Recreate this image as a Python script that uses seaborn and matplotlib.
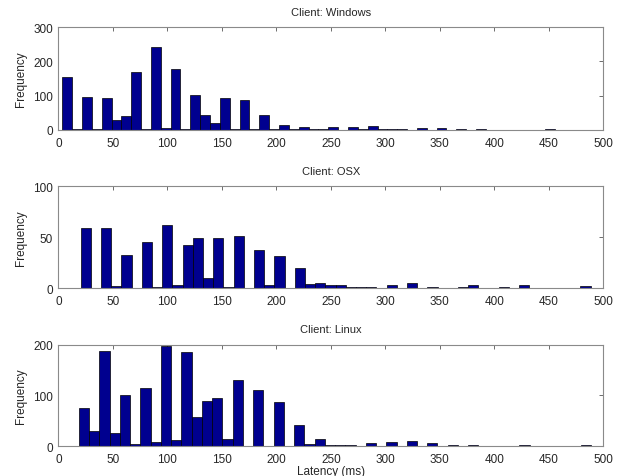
import numpy as np
import pandas as pd
import seaborn as sns
import matplotlib.pyplot as plt

# Histogram counts per client (50 bins each)
clients = ["Windows", "OSX", "Linux"]

windows_counts = [153, 2, 97, 2, 94, 29, 41, 168, 2, 242,
                  4, 178, 1, 102, 43, 21, 93, 1, 87, 1,
                  43, 1, 14, 2, 7, 1, 1, 8, 0, 8,
                  1, 10, 1, 1, 1, 0, 5, 0, 5, 0,
                  2, 0, 2, 0, 0, 0, 0, 0, 0, 1]
osx_counts = [59, 0, 59, 2, 33, 0, 45, 1, 62, 3,
              42, 49, 10, 49, 1, 51, 0, 37, 3, 32,
              0, 20, 4, 5, 3, 3, 1, 1, 1, 0,
              3, 0, 5, 0, 1, 0, 0, 1, 3, 0,
              0, 1, 0, 3, 0, 0, 0, 0, 0, 2]
linux_counts = [75, 31, 188, 26, 101, 4, 115, 8, 198, 12,
                186, 58, 90, 95, 14, 131, 0, 111, 0, 87,
                0, 42, 5, 14, 2, 2, 2, 0, 6, 0,
                8, 0, 10, 0, 6, 0, 2, 0, 3, 0,
                0, 1, 0, 2, 0, 0, 0, 0, 0, 2]

# Bin ranges (ms): first edge and bin width of each histogram
bin_start = [3.5, 20.4, 18.8]
bin_width = [9.04, 9.36, 9.40]

y_ticks = [[0, 100, 200, 300], [0, 50, 100], [0, 100, 200]]
x_ticks = list(range(0, 501, 50))

sns.set_style("white")
plt.rcParams["font.family"] = ["Liberation Sans", "DejaVu Sans"]
plt.rcParams["font.size"] = 8

fig = plt.figure(figsize=(6.22, 4.77), dpi=100)
positions = [[0.094, 0.726, 0.876, 0.2147],
             [0.094, 0.394, 0.876, 0.2132],
             [0.094, 0.0623, 0.876, 0.213]]

all_counts = [windows_counts, osx_counts, linux_counts]
for i, client in enumerate(clients):
    ax = fig.add_axes(positions[i])
    edges = bin_start[i] + bin_width[i] * np.arange(len(all_counts[i]) + 1)
    df = pd.DataFrame({"latency": edges[:-1] + bin_width[i] / 2,
                       "count": all_counts[i]})
    sns.histplot(data=df, x="latency", weights="count", bins=list(edges), ax=ax,
                 color="#00008F", edgecolor="black", linewidth=0.5, alpha=1)
    ax.set_xlim(0, 500)
    ax.set_ylim(y_ticks[i][0], y_ticks[i][-1])
    ax.set_xticks(x_ticks)
    ax.set_yticks(y_ticks[i])
    ax.tick_params(direction="in", length=3, width=0.6, color="#555555",
                   top=True, right=True, labelsize=8.5, pad=4)
    ax.tick_params(axis="x", pad=5)
    for s in ax.spines.values():
        s.set_color("#8a8a8a")
        s.set_linewidth(0.8)
    ax.set_title("Client: " + client, fontsize=8, pad=9)
    ax.set_ylabel("Frequency", fontsize=8.5, labelpad=4)
    if i == 2:
        ax.set_xlabel("Latency (ms)", fontsize=8.5, labelpad=0)
    else:
        ax.set_xlabel("")

fig.savefig("out.png", dpi=100)
